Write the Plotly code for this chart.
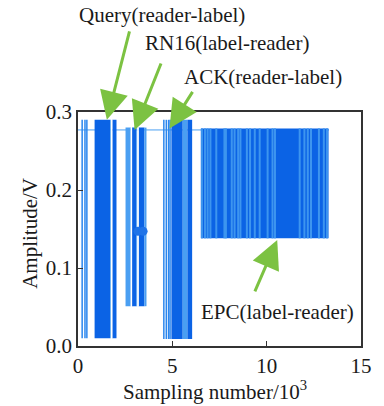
import plotly.graph_objects as go

# ---- data ----
# solid blocks of the signal bursts
blk_x0 = [0.88, 1.70, 1.82, 2.52, 2.86, 3.10, 3.21, 3.52, 4.95, 5.55, 5.80, 6.51]
blk_x1 = [1.70, 1.75, 2.04, 2.80, 3.10, 3.15, 3.52, 3.63, 5.55, 5.80, 6.05, 13.28]
blk_lo = [0.010, 0.010, 0.010, 0.051, 0.051, 0.051, 0.051, 0.051, 0.009, 0.009, 0.009, 0.138]
blk_hi = [0.290, 0.290, 0.290, 0.280, 0.280, 0.280, 0.280, 0.280, 0.290, 0.290, 0.290, 0.279]
blk_shade = ["d", "l", "d", "l", "d", "l", "d", "l", "d", "l", "d", "d"]

# isolated pulses (Query start / ACK start)
pulse_x = [0.22, 0.37, 0.47, 4.55, 4.68, 4.80, 4.88]
pulse_lo = [0.010, 0.010, 0.010, 0.009, 0.009, 0.009, 0.009]
pulse_hi = [0.290, 0.290, 0.290, 0.290, 0.290, 0.290, 0.290]

# lighter streaks inside the EPC burst
epc_streak_x = [6.57, 6.73, 6.87, 7.02, 7.33, 7.76, 7.84, 8.15, 8.30, 8.49, 8.61,
                8.95, 9.12, 9.37, 9.63, 10.05, 10.31, 10.44, 11.75, 12.00, 12.18,
                12.35, 12.77, 13.03, 13.20]
epc_lo = 0.138
epc_hi = 0.279

# white gaps inside RN16 / Query bursts
gap_x = [1.78, 2.83, 3.18]
gap_lo = [0.010, 0.051, 0.051]
gap_hi = [0.290, 0.280, 0.280]

# carrier baseline
base_x = [0.0, 13.3]
base_y = [0.277, 0.277]

# RN16 blob
blob_x = [3.18, 3.45]
blob_y = [0.147, 0.147]

DARK = "#0b63e5"
LIGHT = "#4a9ff2"
STREAK = "#3d95ef"
GREEN = "#7cc242"

fig = go.Figure()

fig.add_trace(go.Scatter(x=base_x, y=base_y, mode="lines",
                         line=dict(color=LIGHT, width=1), hoverinfo="skip"))

for x0, x1, lo, hi, s in zip(blk_x0, blk_x1, blk_lo, blk_hi, blk_shade):
    fig.add_trace(go.Scatter(x=[x0, x1, x1, x0, x0], y=[lo, lo, hi, hi, lo],
                             mode="lines", fill="toself",
                             fillcolor=DARK if s == "d" else LIGHT,
                             line=dict(width=0), hoverinfo="skip"))


def vlines(xs, los, his):
    X, Y = [], []
    for x, lo, hi in zip(xs, los, his):
        X += [x, x, None]
        Y += [lo, hi, None]
    return X, Y


X, Y = vlines(epc_streak_x, [epc_lo] * len(epc_streak_x), [epc_hi] * len(epc_streak_x))
fig.add_trace(go.Scatter(x=X, y=Y, mode="lines", line=dict(color=STREAK, width=2),
                         hoverinfo="skip"))
X, Y = vlines(gap_x, gap_lo, gap_hi)
fig.add_trace(go.Scatter(x=X, y=Y, mode="lines", line=dict(color="white", width=1.5),
                         hoverinfo="skip"))
X, Y = vlines(pulse_x, pulse_lo, pulse_hi)
fig.add_trace(go.Scatter(x=X, y=Y, mode="lines", line=dict(color="#2a86ee", width=1.5),
                         hoverinfo="skip"))
fig.add_trace(go.Scatter(x=blob_x, y=blob_y, mode="markers",
                         marker=dict(color="#1f73e8", size=9), hoverinfo="skip"))

FONT = dict(family="Times New Roman", size=21, color="#1a1a1a")

axis_common = dict(showline=True, linecolor="#333333", linewidth=1.5, mirror=True,
                   ticks="inside", ticklen=5, tickcolor="#333333", tickwidth=1.2,
                   showgrid=False, zeroline=False, tickfont=FONT)

fig.update_layout(
    width=384, height=406,
    margin=dict(l=78, r=12, t=112, b=60),
    paper_bgcolor="white", plot_bgcolor="white",
    showlegend=False,
    font=FONT,
    xaxis=dict(range=[0, 15], tickvals=[0, 5, 10, 15], **axis_common),
    yaxis=dict(range=[0, 0.3], tickvals=[0, 0.1, 0.2, 0.3], tickformat=".1f", **axis_common),
)

# axis titles
fig.add_annotation(text="Sampling number/10<sup>3</sup>", xref="paper", yref="paper",
                   x=0.485, y=-0.19, showarrow=False, font=FONT, yanchor="middle")
fig.add_annotation(text="Amplitude/V", xref="paper", yref="paper", x=-0.17, y=0.483,
                   textangle=-90, showarrow=False, font=FONT, xanchor="center", yanchor="middle")

# labels
labels = ["Query(reader-label)", "RN16(label-reader)", "ACK(reader-label)", "EPC(label-reader)"]
label_px = [0.296, 0.527, 0.653, 0.704]
label_py = [1.415, 1.295, 1.150, 0.145]
for t, px, py in zip(labels, label_px, label_py):
    fig.add_annotation(text=t, xref="paper", yref="paper", x=px, y=py, showarrow=False,
                       font=FONT, xanchor="center", yanchor="middle")

# arrows
arrow_x = [1.53, 3.0, 4.85, 10.56]
arrow_y = [0.290, 0.277, 0.279, 0.136]
arrow_ax = [23, 27, 24, -23]
arrow_ay = [-90, -68, -38, 53]
for x, y, ax, ay in zip(arrow_x, arrow_y, arrow_ax, arrow_ay):
    fig.add_annotation(text="", x=x, y=y, xref="x", yref="y", ax=ax, ay=ay,
                       showarrow=True, arrowhead=2, arrowsize=1.9, arrowwidth=3,
                       arrowcolor=GREEN)

fig.write_html("out.html")
